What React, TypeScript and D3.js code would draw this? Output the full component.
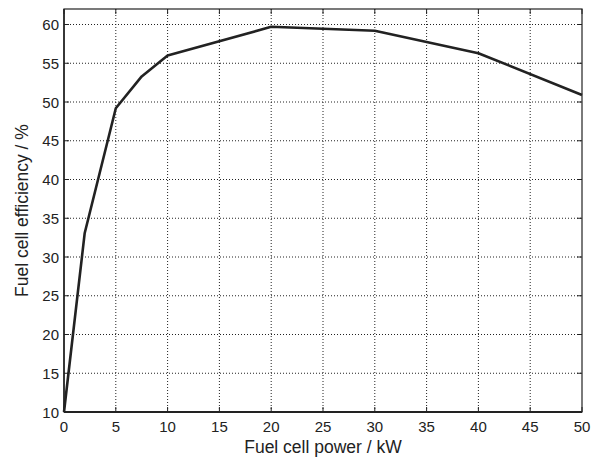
import React from "react";
import * as d3 from "d3";

const powerKW = [0, 2, 5, 7.5, 10, 20, 30, 40, 50];
const efficiency = [10, 33.1, 49.2, 53.3, 56.0, 59.7, 59.2, 56.3, 50.9];
const xTicks = [0, 5, 10, 15, 20, 25, 30, 35, 40, 45, 50];
const yTicks = [10, 15, 20, 25, 30, 35, 40, 45, 50, 55, 60];

const W = 603, H = 459;
const m = { left: 64, right: 21, top: 9, bottom: 47 };

export default function App() {
  const x = d3.scaleLinear().domain([0, 50]).range([m.left, W - m.right]);
  const y = d3.scaleLinear().domain([10, 62]).range([H - m.bottom, m.top]);
  const line = d3.line<number>().x((_, i) => x(powerKW[i])).y((d) => y(d));
  const font = "Liberation Sans, Arial, Helvetica, sans-serif";
  const x0 = x(0), x1 = x(50), y0 = y(10), y1 = y(62);
  return (
    <svg width={W} height={H} style={{ position: "absolute", left: 0, top: 0 }}>
      <rect x={0} y={0} width={W} height={H} fill="#fff" />
      {xTicks.slice(1, -1).map((t) => (
        <line key={"gx" + t} x1={x(t)} x2={x(t)} y1={y0} y2={y1} stroke="#222" strokeWidth={1} strokeDasharray="1,2" />
      ))}
      {yTicks.slice(1).map((t) => (
        <line key={"gy" + t} x1={x0} x2={x1} y1={y(t)} y2={y(t)} stroke="#222" strokeWidth={1} strokeDasharray="1,2" />
      ))}
      {xTicks.map((t) => (
        <g key={"tx" + t}>
          <line x1={x(t)} x2={x(t)} y1={y0} y2={y0 - 5} stroke="#222" strokeWidth={1} />
          <line x1={x(t)} x2={x(t)} y1={y1} y2={y1 + 5} stroke="#222" strokeWidth={1} />
          <text x={x(t)} y={y0 + 20} textAnchor="middle" fontFamily={font} fontSize={15} fill="#222">{t}</text>
        </g>
      ))}
      {yTicks.map((t) => (
        <g key={"ty" + t}>
          <line x1={x0} x2={x0 + 5} y1={y(t)} y2={y(t)} stroke="#222" strokeWidth={1} />
          <line x1={x1} x2={x1 - 5} y1={y(t)} y2={y(t)} stroke="#222" strokeWidth={1} />
          <text x={x0 - 5} y={y(t) + 5.5} textAnchor="end" fontFamily={font} fontSize={15} fill="#222">{t}</text>
        </g>
      ))}
      <rect x={x0} y={y1} width={x1 - x0} height={y0 - y1} fill="none" stroke="#222" strokeWidth={1.2} />
      <line x1={x0} x2={x1} y1={y0} y2={y0} stroke="#222" strokeWidth={2} />
      <line x1={x0} x2={x0} y1={y0} y2={y1} stroke="#222" strokeWidth={1.5} />
      <path d={line(efficiency) || ""} fill="none" stroke="#222" strokeWidth={2.6} strokeLinejoin="round" />
      <text x={(x0 + x1) / 2} y={H - 6} textAnchor="middle" fontFamily={font} fontSize={17.5} fill="#222">Fuel cell power / kW</text>
      <text transform={`translate(28,${(y0 + y1) / 2}) rotate(-90)`} textAnchor="middle" fontFamily={font} fontSize={17.5} fill="#222">Fuel cell efficiency / %</text>
    </svg>
  );
}
